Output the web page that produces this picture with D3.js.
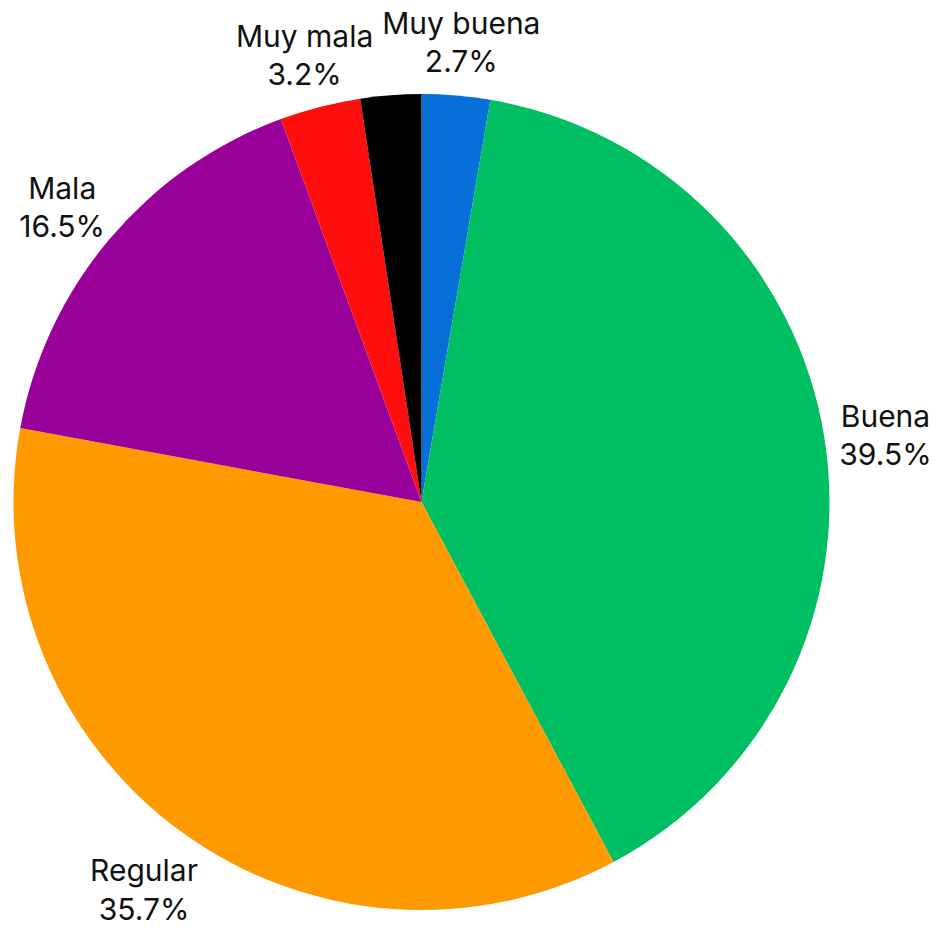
<!DOCTYPE html>
<html>
<head>
<meta charset="utf-8">
<script src="https://cdn.jsdelivr.net/npm/d3@7"></script>
<style>
  html, body { margin: 0; padding: 0; background: #fff; }
  svg { display: block; }
  text { font-family: Inter, "Noto Sans", sans-serif; fill: #111; }
</style>
</head>
<body>
<svg id="chart" width="938" height="929"></svg>
<script>
const categories = ["Muy buena", "Buena", "Regular", "Mala", "Muy mala", ""];
const values = [2.7, 39.5, 35.7, 16.5, 3.2, 2.4];
const valueLabels = ["2.7%", "39.5%", "35.7%", "16.5%", "3.2%", ""];
const colors = ["#066fd8", "#00bf63", "#ff9900", "#990099", "#ff0e0e", "#000000"];

const svg = d3.select("#chart");
const cx = 421.5, cy = 502, radius = 408, labelR = 470;

const data = categories.map((c, i) => ({ cat: c, value: values[i], label: valueLabels[i], color: colors[i] }));

const pie = d3.pie().sort(null).value(d => d.value);
const arcs = pie(data);
const arc = d3.arc().innerRadius(0).outerRadius(radius);
const labelArc = d3.arc().innerRadius(labelR).outerRadius(labelR);

const g = svg.append("g").attr("transform", `translate(${cx},${cy})`);

g.selectAll("path").data(arcs).join("path")
  .attr("d", arc)
  .attr("fill", d => d.data.color);

const lbl = g.selectAll("text.lbl").data(arcs.filter(d => d.data.cat)).join("text")
  .attr("class", "lbl")
  .attr("text-anchor", "middle")
  .attr("font-size", 30)
  .attr("transform", d => { const [x, y] = labelArc.centroid(d); return `translate(${x},${y})`; });

lbl.append("tspan").attr("x", 0).attr("dy", "0em").text(d => d.data.cat);
lbl.append("tspan").attr("x", 0).attr("dy", "1.28em").text(d => d.data.label);
</script>
</body>
</html>
